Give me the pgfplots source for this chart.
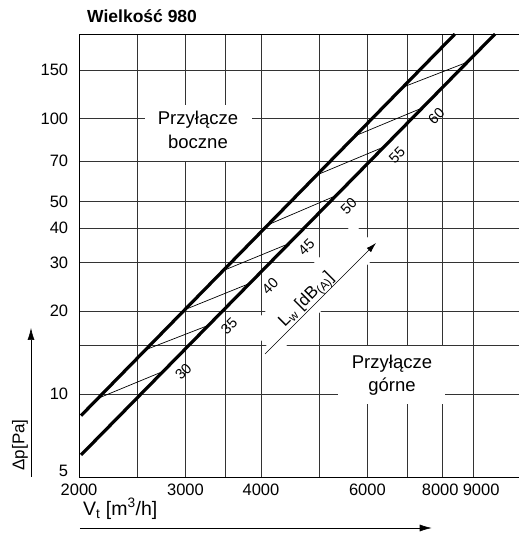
\documentclass[border=0pt]{standalone}
\usepackage{pgfplots}
\pgfplotsset{compat=1.18}
\usetikzlibrary{arrows.meta}
\usepackage{fontspec}
\setmainfont{Liberation Sans}
\begin{document}
\begin{tikzpicture}
\begin{axis}[
  at={(0pt,0pt)}, anchor=south west,
  scale only axis, width=446pt, height=443pt,
  xmode=log, ymode=log,
  xmin=2000, xmax=10938, ymin=5, ymax=202.7,
  xtick={2000,2500,3000,3500,4000,5000,6000,7000,8000,9000},
  xticklabels={2000,,3000,,4000,,6000,,\hspace*{-5.4pt}8000,\hspace*{14.6pt}9000},
  ytick={5,10,15,20,30,40,50,70,100,150},
  yticklabels={\raisebox{12pt}{5},10,,20,30,40,50,70,100,150},
  minor xtick={}, minor ytick={},
  grid=major,
  major grid style={black!80, line width=0.9pt},
  major tick length=0pt,
  tick style={draw=none},
  axis line style={black, line width=0.9pt},
  /pgf/number format/assume math mode=true,
  tick label style={font=\fontsize{16.5}{18}\selectfont, inner sep=0pt},
  xticklabel style={anchor=north, yshift=-7pt},
  yticklabel style={anchor=east, xshift=-10.7pt},
]
% thick characteristic lines
\addplot[black, line width=3.2pt] coordinates {(2015,8.35) (8376,202.7)};
\addplot[black, line width=3.2pt] coordinates {(2015,6.01) (9756,202.7)};
% thin iso-dB lines
\addplot[black, line width=0.7pt] coordinates {(2150,9.65) (2757,12.09)};
\addplot[black, line width=0.7pt] coordinates {(2579,14.49) (3270,17.74)};
\addplot[black, line width=0.7pt] coordinates {(2995,20.26) (3829,25.2)};
\addplot[black, line width=0.7pt] coordinates {(3465,28.07) (4412,34.9)};
\addplot[black, line width=0.7pt] coordinates {(4113,41.2) (5323,52.5)};
\addplot[black, line width=0.7pt] coordinates {(4948,62.4) (6374,78.7)};
\addplot[black, line width=0.7pt] coordinates {(5760,87.0) (7376,109)};
\addplot[black, line width=0.7pt] coordinates {(6871,130) (8768,160)};
\end{axis}
% white masks
\node[fill=white, inner sep=0pt, minimum width=148pt, minimum height=39pt, rotate=45] at (236pt,187.5pt) {};
\node[fill=white, inner sep=0pt, minimum width=107pt, minimum height=56pt] at (119.5pt,344pt) {};
\node[fill=white, inner sep=0pt, minimum width=107pt, minimum height=58pt] at (312.5pt,102pt) {};
% region texts
\node[align=center, inner sep=0pt, font=\fontsize{18.5}{24}\selectfont] at (119pt,347.5pt) {Przyłącze\\boczne};
\node[align=center, inner sep=0pt, font=\fontsize{18.5}{23.4}\selectfont] at (313pt,101.8pt) {Przyłącze\\górne};
% dB labels
\begin{scope}[every node/.style={rotate=45, inner sep=0pt, font=\fontsize{14.5}{16}\selectfont}]
\node at (104.3pt,105.3pt) {30};
\node at (150pt,151pt) {35};
\node at (191pt,191pt) {40};
\node at (227.3pt,229.5pt) {45};
\node at (269.7pt,271pt) {50};
\node at (318pt,322pt) {55};
\node at (357.3pt,360.7pt) {60};
\end{scope}
% Lw label and arrow
\node[rotate=45, inner sep=0pt, font=\fontsize{17}{19}\selectfont] at (228pt,177pt) {L\textsubscript{w} [dB\textsubscript{(A)}]};
\draw[black, line width=0.6pt, -{Latex[length=10pt,width=6pt]}] (186pt,123pt) -- (297pt,234pt);
% title
\node[anchor=base west, inner sep=0pt, font=\bfseries\fontsize{17.5}{19}\selectfont] at (8pt,454.3pt) {Wielkość 980};
% axis labels and arrows
\node[rotate=90, inner sep=0pt, font=\fontsize{17}{19}\selectfont] at (-59pt,32pt) {Δp[Pa]};
\draw[black, line width=0.6pt, -{Latex[length=12pt,width=7pt]}] (-48pt,0pt) -- (-48pt,149pt);
\node[anchor=base west, inner sep=0pt, font=\fontsize{19.5}{21}\selectfont] at (4pt,-38pt) {V\textsubscript{t} [m\textsuperscript{3}/h]};
\draw[black, line width=0.6pt, -{Latex[length=12pt,width=7pt]}] (1pt,-51pt) -- (352.7pt,-51pt);
\pgfresetboundingbox
\useasboundingbox (-79pt,-56pt) rectangle (440pt,477pt);
\end{tikzpicture}
\end{document}
